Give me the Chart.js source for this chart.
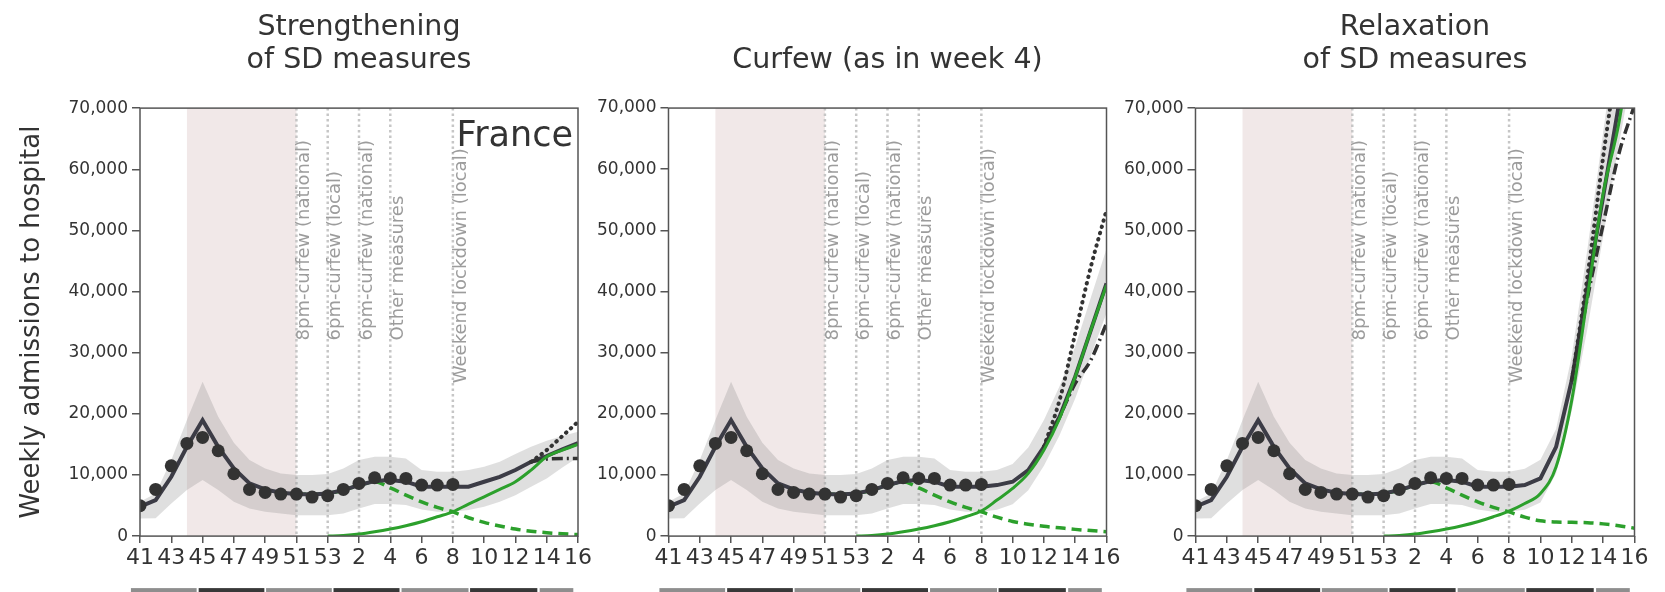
<!DOCTYPE html>
<html>
<head>
<meta charset="utf-8">
<script src="https://cdn.jsdelivr.net/npm/chart.js@4.4.1/dist/chart.umd.min.js"></script>
<style>
  html, body { margin:0; padding:0; background:#fff; overflow:hidden; width:1665px; height:592px; }
  .panel { position:absolute; }
</style>
</head>
<body>
<script>
// ---------------- DATA ----------------
const weekLabels = ['41','42','43','44','45','46','47','48','49','50','51','52','53','1','2','3','4','5','6','7','8','9','10','11','12','13','14','15','16'];

// observed weekly admissions (dots)
const observed = [4960, 7640, 11500, 15160, 16140, 13960, 10200, 7640, 7150, 6870, 6870, 6380, 6600, 7640, 8620, 9540, 9430, 9430, 8340, 8340, 8450, null, null, null, null, null, null, null, null];

// model total (dark solid) per scenario
const modelStrengthen = [4800, 5900, 9700, 14600, 18970, 14600, 11070, 8620, 7640, 7090, 6870, 6820, 6980, 7520, 8340, 9000, 9160, 8900, 8070, 8070, 8070, 8070, 8890, 9700, 10800, 12150, 13100, 14200, 15200];
const modelCurfew     = [4800, 5900, 9700, 14600, 18970, 14600, 11070, 8620, 7640, 7090, 6870, 6820, 6980, 7520, 8340, 9000, 9160, 8900, 8070, 8070, 8070, 8340, 8890, 10800, 14600, 19520, 26060, 33690, 41330];
const modelRelax      = [4800, 5900, 9700, 14600, 18970, 14600, 11070, 8620, 7640, 7090, 6870, 6820, 6980, 7520, 8340, 9000, 9160, 8900, 8070, 8070, 8070, 8340, 9430, 14600, 25500, 40780, 55500, 70500, 85000];

// uncertainty band (lower / upper)
const bandLowStrengthen  = [2890, 2900, 5340, 7520, 9160, 7520, 5620, 4530, 3980, 3700, 3430, 3430, 3430, 3700, 4530, 5230, 5230, 5070, 4360, 3980, 3980, 4250, 4800, 5620, 6700, 8070, 9430, 11200, 12900];
const bandHighStrengthen = [5620, 6980, 12430, 18970, 25240, 19520, 15270, 12430, 11070, 10250, 9980, 9980, 10140, 11070, 12430, 12970, 12970, 12700, 10800, 10520, 10520, 10800, 11340, 12150, 13410, 14600, 15590, 16360, 17060];
const bandLowCurfew      = [2890, 2900, 5340, 7520, 9160, 7520, 5620, 4530, 3980, 3700, 3430, 3430, 3430, 3700, 4530, 5230, 5230, 5070, 4360, 3980, 3980, 4300, 5200, 7500, 11500, 16500, 22500, 29500, 36500];
const bandHighCurfew     = [5620, 6980, 12430, 18970, 25240, 19520, 15270, 12430, 11070, 10250, 9980, 9980, 10140, 11070, 12430, 12970, 12970, 12700, 10800, 10520, 10520, 10800, 11800, 14500, 19000, 24500, 31000, 39000, 47000];
const bandLowRelax       = [2890, 2900, 5340, 7520, 9160, 7520, 5620, 4530, 3980, 3700, 3430, 3430, 3430, 3700, 4530, 5230, 5230, 5070, 4360, 3980, 3980, 4300, 5500, 10300, 20500, 34000, 49000, 64000, 78000];
const bandHighRelax      = [5620, 6980, 12430, 18970, 25240, 19520, 15270, 12430, 11070, 10250, 9980, 9980, 10140, 11070, 12430, 12970, 12970, 12700, 10800, 10520, 10520, 11000, 12500, 17500, 29500, 47000, 66000, 85000, 100000];

// variant admissions (green solid)
const variantStrengthen = [null, null, null, null, null, null, null, null, null, null, null, null, 0, 110, 330, 700, 1150, 1690, 2340, 3160, 3980, 5230, 6430, 7640, 8890, 10800, 12970, 14070, 15000];
const variantCurfew     = [null, null, null, null, null, null, null, null, null, null, null, null, 0, 110, 330, 700, 1150, 1690, 2340, 3160, 4100, 5890, 7800, 10250, 14070, 19250, 26060, 33690, 41050];
const variantRelax      = [null, null, null, null, null, null, null, null, null, null, null, null, 0, 110, 330, 700, 1150, 1690, 2340, 3160, 4100, 5340, 6980, 11340, 22240, 39140, 56050, 67500, 84000];

// historical strain admissions (green dashed)
const historicalStrengthen = [null, null, null, null, null, null, null, null, null, null, 6870, 6820, 6980, 7500, 8300, 8890, 7900, 6700, 5600, 4700, 3950, 3000, 2250, 1650, 1150, 800, 550, 380, 250];
const historicalCurfew     = [null, null, null, null, null, null, null, null, null, null, 6870, 6820, 6980, 7500, 8300, 8890, 7900, 6700, 5600, 4700, 3950, 3100, 2400, 1950, 1600, 1350, 1100, 900, 700];
const historicalRelax      = [null, null, null, null, null, null, null, null, null, null, 6870, 6820, 6980, 7500, 8300, 8890, 7900, 6700, 5600, 4700, 3950, 3100, 2500, 2300, 2250, 2200, 2000, 1700, 1300];

// alternative transmissibility scenarios (dotted = higher, dash-dot = lower)
const higherStrengthen = [null, null, null, null, null, null, null, null, null, null, null, null, null, null, null, null, null, null, null, null, null, null, null, null, null, 12150, 14070, 16360, 18700];
const higherCurfew     = [null, null, null, null, null, null, null, null, null, null, null, null, null, null, null, null, null, null, null, null, null, null, null, null, 14600, 22240, 33150, 44050, 53300];
const higherRelax      = [null, null, null, null, null, null, null, null, null, null, null, null, null, null, null, null, null, null, null, null, null, null, null, null, 25500, 42500, 62000, 80000, 98000];
const lowerStrengthen  = [null, null, null, null, null, null, null, null, null, null, null, null, null, null, null, null, null, null, null, null, null, null, null, null, null, 12150, 12600, 12700, 12700];
const lowerCurfew      = [null, null, null, null, null, null, null, null, null, null, null, null, null, null, null, null, null, null, null, null, null, null, null, null, 14600, 19520, 24970, 28790, 34790];
const lowerRelax       = [null, null, null, null, null, null, null, null, null, null, null, null, null, null, null, null, null, null, null, null, null, null, null, null, 25500, 39000, 51000, 62500, 70500];

// annotations
const lockdownWeeks = ['44', '51'];
const measureWeeks  = ['51', '53', '2', '4', '8'];
const measureLabels = ['8pm-curfew (national)', '6pm-curfew (local)', '6pm-curfew (national)', 'Other measures', 'Weekend lockdown (local)'];
const measureLabelBase = [32000, 32000, 32000, 32000, 25000];

// month strip (in week-index units)
const monthNames = ['Oct', 'Nov', 'Dec', 'Jan', 'Feb', 'Mar', 'Apr'];
const monthStart = [-0.58, 3.75, 8.06, 12.37, 16.72, 21.1, 25.55];
const monthEnd   = [3.62, 7.95, 12.26, 16.59, 21.0, 25.4, 27.7];

const yMax = 70000, yStep = 10000;
const panelTitles = [['Strengthening', 'of SD measures'], 'Curfew (as in week 4)', ['Relaxation', 'of SD measures']];
const yAxisTitle = 'Weekly admissions to hospital';
const cornerLabel = 'France';

// ---------------- DRAWING ----------------
const FONT = 'DejaVu Sans';
Chart.defaults.font.family = FONT;
Chart.defaults.color = '#333';

const GREEN = '#2ca02c';
const DARK = '#3c3c46';

function pts(arr) { return arr.map((v, i) => ({x: i, y: v})); }

const decorPlugin = {
  id: 'decor',
  beforeDatasetsDraw(chart, args, opts) {
    const {ctx, chartArea: a, scales: {x, y}} = chart;
    ctx.save();
    const xs = x.getPixelForValue(weekLabels.indexOf(lockdownWeeks[0]));
    const xe = x.getPixelForValue(weekLabels.indexOf(lockdownWeeks[1]));
    ctx.fillStyle = '#f1e8e8';
    ctx.fillRect(xs, a.top, xe - xs, a.bottom - a.top);
    ctx.strokeStyle = '#c6c6c6';
    ctx.lineWidth = 2.5;
    ctx.setLineDash([2.5, 3]);
    measureWeeks.forEach((w) => {
      const px = x.getPixelForValue(weekLabels.indexOf(w));
      ctx.beginPath(); ctx.moveTo(px, a.top); ctx.lineTo(px, a.bottom); ctx.stroke();
    });
    ctx.setLineDash([]);
    ctx.fillStyle = '#9c9c9c';
    ctx.font = '18px "' + FONT + '"';
    ctx.textAlign = 'left';
    ctx.textBaseline = 'middle';
    measureWeeks.forEach((w, k) => {
      const px = x.getPixelForValue(weekLabels.indexOf(w));
      const py = y.getPixelForValue(measureLabelBase[k]);
      ctx.save();
      ctx.translate(px + 8, py);
      ctx.rotate(-Math.PI / 2);
      ctx.fillText(measureLabels[k], 0, 0);
      ctx.restore();
    });
    ctx.restore();
  },
  afterDatasetsDraw(chart, args, opts) {
    const {ctx, chartArea: a} = chart;
    ctx.save();
    ctx.strokeStyle = '#555';
    ctx.lineWidth = 1.5;
    ctx.strokeRect(a.left, a.top, a.right - a.left, a.bottom - a.top);
    if (opts.corner) {
      ctx.fillStyle = '#333';
      ctx.font = '35px "' + FONT + '"';
      ctx.textAlign = 'right';
      ctx.textBaseline = 'alphabetic';
      ctx.fillText(opts.corner, a.right - 5, a.top + 38);
    }
    ctx.restore();
  },
  afterDraw(chart) {
    const {ctx, chartArea: a, scales: {x}} = chart;
    ctx.save();
    monthNames.forEach((m, k) => {
      const x0 = x.getPixelForValue(monthStart[k]);
      const x1 = x.getPixelForValue(monthEnd[k]);
      ctx.fillStyle = k % 2 === 0 ? '#8e8e8e' : '#383838';
      ctx.fillRect(x0, a.bottom + 52, x1 - x0, 14);
    });
    ctx.restore();
  }
};

function makePanel(cfg) {
  const box = {left: cfg.target.left - 90, top: 0, width: cfg.target.right - cfg.target.left + 120, height: 630};
  const div = document.createElement('div');
  div.className = 'panel';
  const apply = () => {
    div.style.left = box.left + 'px'; div.style.top = box.top + 'px';
    div.style.width = box.width + 'px'; div.style.height = box.height + 'px';
  };
  apply();
  const canvas = document.createElement('canvas');
  div.appendChild(canvas);
  document.body.appendChild(div);

  const chart = new Chart(canvas, {
    type: 'line',
    data: {
      datasets: [
        {label: 'band-low', data: pts(cfg.bandLow), borderWidth: 0, pointRadius: 0, fill: false, order: 10},
        {label: 'band-high', data: pts(cfg.bandHigh), borderWidth: 0, pointRadius: 0, fill: '-1', backgroundColor: 'rgba(140,140,140,0.28)', order: 10},
        {label: 'historical', data: pts(cfg.historical), borderColor: GREEN, borderWidth: 3.5, borderDash: [10, 6], pointRadius: 0, cubicInterpolationMode: 'monotone', order: 5},
        {label: 'model', data: pts(cfg.model), borderColor: DARK, borderWidth: 4, pointRadius: 0, order: 4},
        {label: 'higher', data: pts(cfg.higher), borderColor: '#333', borderWidth: 4, borderDash: [0.5, 6], borderCapStyle: 'round', pointRadius: 0, cubicInterpolationMode: 'monotone', order: 3},
        {label: 'lower', data: pts(cfg.lower), borderColor: '#333', borderWidth: 3.5, borderDash: [11, 4, 2, 4], pointRadius: 0, cubicInterpolationMode: 'monotone', order: 3},
        {label: 'variant', data: pts(cfg.variant), borderColor: GREEN, borderWidth: 3, pointRadius: 0, cubicInterpolationMode: 'monotone', order: 2},
        {label: 'observed', data: pts(observed), showLine: false, pointRadius: 6.5, pointBackgroundColor: '#333', pointBorderWidth: 0, order: 0}
      ]
    },
    options: {
      responsive: true,
      maintainAspectRatio: false,
      animation: false,
      events: [],
      layout: {padding: {right: 24, bottom: 40}},
      plugins: {
        legend: {display: false},
        tooltip: {enabled: false},
        title: {
          display: true, text: cfg.title, color: '#333', fullSize: false,
          font: {size: 28.5, weight: 'normal', lineHeight: 1.16},
          padding: {top: 4, bottom: 31}
        },
        decor: {corner: cfg.corner}
      },
      scales: {
        x: {
          type: 'linear', min: 0, max: weekLabels.length - 1,
          ticks: {stepSize: 2, autoSkip: false, maxRotation: 0, minRotation: 0, color: '#333', padding: 2,
                  font: {size: 22}, callback: (v) => weekLabels[v]},
          grid: {drawOnChartArea: false, drawTicks: true, tickLength: 7, color: '#555', lineWidth: 1.5},
          border: {display: false}
        },
        y: {
          min: 0, max: yMax,
          ticks: {stepSize: yStep, color: '#333', padding: 4, font: {size: 17},
                  callback: (v) => v.toLocaleString('en-US')},
          grid: {drawOnChartArea: false, drawTicks: true, tickLength: 8, color: '#555', lineWidth: 1.5},
          border: {display: false},
          title: {display: !!cfg.yTitle, text: cfg.yTitle || '', color: '#333', font: {size: 26}, padding: {top: 17, bottom: 0}},
          afterFit: cfg.yTitle ? (s) => { s.width = 140; } : undefined
        }
      }
    },
    plugins: [decorPlugin]
  });

  for (let k = 0; k < 4; k++) {
    const a = chart.chartArea;
    const dL = cfg.target.left - (box.left + a.left);
    const dR = cfg.target.right - (box.left + a.right);
    const dT = cfg.target.top - (box.top + a.top);
    const dB = cfg.target.bottom - (box.top + a.bottom);
    if (Math.abs(dL) + Math.abs(dR) + Math.abs(dT) + Math.abs(dB) < 0.5) break;
    box.left += dL; box.width += dR - dL;
    box.top += dT; box.height += dB - dT;
    apply();
    chart.resize();
  }
  return chart;
}

makePanel({
  target: {left: 140, right: 578, top: 108, bottom: 536},
  title: panelTitles[0], yTitle: yAxisTitle, corner: cornerLabel,
  model: modelStrengthen, bandLow: bandLowStrengthen, bandHigh: bandHighStrengthen,
  variant: variantStrengthen, historical: historicalStrengthen,
  higher: higherStrengthen, lower: lowerStrengthen
});
makePanel({
  target: {left: 668, right: 1106, top: 108, bottom: 536},
  title: panelTitles[1], corner: '',
  model: modelCurfew, bandLow: bandLowCurfew, bandHigh: bandHighCurfew,
  variant: variantCurfew, historical: historicalCurfew,
  higher: higherCurfew, lower: lowerCurfew
});
makePanel({
  target: {left: 1195, right: 1634, top: 108, bottom: 536},
  title: panelTitles[2], corner: '',
  model: modelRelax, bandLow: bandLowRelax, bandHigh: bandHighRelax,
  variant: variantRelax, historical: historicalRelax,
  higher: higherRelax, lower: lowerRelax
});
</script>
</body>
</html>
